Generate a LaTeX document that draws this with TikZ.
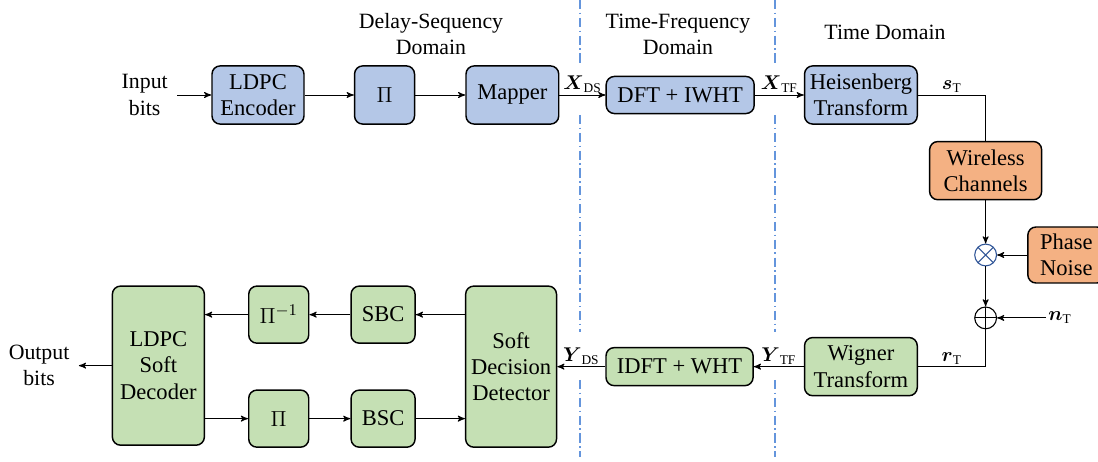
\documentclass[tikz,border=0pt]{standalone}
\usepackage{amsmath,amssymb}
\usepackage{fontspec}
\setmainfont{Liberation Serif}
\usetikzlibrary{shapes, arrows, positioning, calc}
\definecolor{txblue}{HTML}{B4C7E7}
\definecolor{rxgreen}{HTML}{C5E0B4}
\definecolor{chorange}{HTML}{F4B183}
\definecolor{domline}{RGB}{100,149,220}
\definecolor{mixblue}{HTML}{2F5597}

\begin{document}
\begin{tikzpicture}[x=0.55pt, y=-0.55pt, font=\fontsize{12}{14.4}\selectfont, >=stealth', line width=0.5pt,
	blk/.style={draw, rounded corners=4.5pt, line width=0.8pt, align=center, inner sep=2pt, minimum height=32pt, font=\fontsize{12.4}{14.4}\selectfont},
	tx/.style={blk, fill=txblue},
	rx/.style={blk, fill=rxgreen},
	ch/.style={blk, fill=chorange},
	op/.style={draw, circle, minimum size=12pt, inner sep=0pt, line width=0.6pt},
	mulop/.style={op, draw=mixblue, path picture={\draw[mixblue, line width=0.6pt] (path picture bounding box.north west) -- (path picture bounding box.south east) (path picture bounding box.north east) -- (path picture bounding box.south west);}},
	addop/.style={op, path picture={\draw[line width=0.6pt] (path picture bounding box.north) -- (path picture bounding box.south) (path picture bounding box.west) -- (path picture bounding box.east);}},
	lbl/.style={inner sep=1pt, font=\fontsize{10.5}{12}\selectfont},
	domsep/.style={domline, line width=0.8pt, dash pattern=on 5pt off 2pt on 0.8pt off 2pt}]
	\useasboundingbox (0,0) rectangle (1098,462);
	\node[tx, minimum width=50.6pt] (enc) at (258,95) {LDPC\\Encoder};
	\node[tx, minimum width=33pt, right=27pt of enc] (pit) {\large$\Pi$};
	\node[tx, minimum width=51pt, right=27.5pt of pit] (map) {Mapper};
	\node[tx, minimum width=81.4pt, minimum height=20.4pt, right=25.3pt of map] (dft) {DFT + IWHT};
	\node[tx, minimum width=62pt, right=26.9pt of dft] (heis) {Heisenberg\\Transform};
	\node[ch, minimum width=61.6pt, below right=8.8pt and 6pt of heis.south east] (wc) {Wireless\\Channels};
	\node[mulop, below=23.7pt of wc] (mul) {};
	\node[ch, minimum width=42.4pt, minimum height=30.8pt, right=16.5pt of mul] (pn) {Phase\\Noise};
	\node[addop, below=22pt of mul] (add) {};
	\node[lbl, right=27pt of add] (noise) {$\boldsymbol{n}_{\mathrm{T}}$};
	\node[rx, minimum width=62pt, below=116.6pt of heis] (wig) {Wigner\\Transform};
	\node[rx, minimum width=80.9pt, minimum height=20.9pt, left=27.5pt of wig] (idft) {IDFT + WHT};
	\node[rx, minimum width=50pt, minimum height=88.6pt, left=26.4pt of idft] (sdd) {Soft\\Decision\\Detector};
	\node[rx, minimum width=35.2pt, minimum height=31.4pt, left=27pt of sdd.north west, anchor=north east] (sbc) {SBC};
	\node[rx, minimum width=35.2pt, minimum height=31.4pt, left=27pt of sdd.south west, anchor=south east] (bsc) {BSC};
	\node[rx, minimum width=33pt, minimum height=31.4pt, left=22.5pt of sbc] (pinv) {$\Pi^{-1}$};
	\node[rx, minimum width=33pt, minimum height=31.4pt, left=22.5pt of bsc] (pib) {$\Pi$};
	\node[rx, minimum width=50.6pt, minimum height=87.5pt, left=23.6pt of pinv.north west, anchor=north east] (dec) {LDPC\\Soft\\Decoder};
	\node[inner xsep=5pt, align=center, left=18.7pt of enc] (inb) {Input\\bits};
	\node[inner xsep=5pt, align=center, left=18pt of dec] (outb) {Output\\bits};
	\node[align=center] (dsdom) at (431,34) {Delay-Sequency\\Domain};
	\node[align=center] (tfdom) at (678,34) {Time-Frequency\\Domain};
	\node (tdom) at (885,32) {Time Domain};
	\foreach \x in {580,775}
		\draw[domsep] (\x,0) -- (\x,63) (\x,115) -- (\x,332) (\x,380) -- (\x,457);
	\foreach \from/\to in {inb/enc,enc/pit,pit/map,wc/mul,pn/mul,mul/add,noise/add,sbc/pinv,pib/bsc,dec/outb}
		\draw[->] (\from) -- (\to);
	\draw[->] (map) -- node[lbl, above] {$\boldsymbol{X}_{\mathrm{DS}}$} (dft);
	\draw[->] (dft) -- node[lbl, above] {$\boldsymbol{X}_{\mathrm{TF}}$} (heis);
	\draw (heis.east) -| node[lbl, pos=0.25, above] {$\boldsymbol{s}_{\mathrm{T}}$} (wc.north);
	\draw (add.south) |- node[lbl, pos=0.75, above] {$\boldsymbol{r}_{\mathrm{T}}$} (wig.east);
	\draw[->] (wig) -- node[lbl, above] {$\boldsymbol{Y}_{\mathrm{TF}}$} (idft);
	\draw[->] (idft) -- node[lbl, above] {$\boldsymbol{Y}_{\mathrm{DS}}$} (sdd);
	\draw[->] (sdd.west |- sbc) -- (sbc);
	\draw[->] (pinv) -- (pinv -| dec.east);
	\draw[->] (dec.east |- pib) -- (pib);
	\draw[->] (bsc) -- (bsc -| sdd.west);
\end{tikzpicture}
\end{document}
